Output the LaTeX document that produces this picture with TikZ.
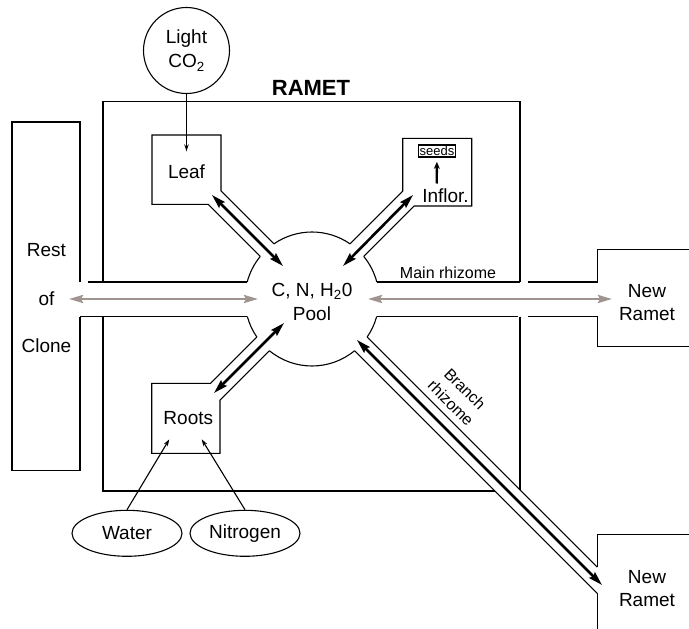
\documentclass[tikz,border=0pt]{standalone}
\usepackage{fontspec}
\setmainfont{Liberation Sans}
\usepackage{tikz}
\usetikzlibrary{arrows.meta, shapes.geometric}

\definecolor{flowgray}{RGB}{160,148,144}

\begin{document}
\begin{tikzpicture}[x=1pt, y=-1pt,
    wall/.style={line width=1.1pt},
    flow/.style={line width=2.6pt, >={Stealth[length=14pt, width=8pt, inset=2pt]}, <->},
    mainflow/.style={line width=2.6pt, flowgray, >={Stealth[length=14pt, width=8pt, inset=2pt]}, <->},
    feed/.style={line width=1.1pt, -{Stealth[length=7pt, width=4.5pt]}},
    lbl/.style={font=\fontsize{19}{24}\selectfont, align=center, inner sep=0pt},
    smalllbl/.style={font=\fontsize{16}{20}\selectfont, align=center, inner sep=0pt}]
    \useasboundingbox (0,0) rectangle (689,629);

    % rest of clone
    \draw[wall] (80,282) -- (80,122) -- (12,122) -- (12,470.5) -- (80,470.5) -- (80,316.5);
    \node[lbl] (rest) at (46.5,250) {Rest};
    \node[lbl] (of) at (46.5,298.5) {of};
    \node[lbl] (clone) at (46.5,346) {Clone};

    % ramet outline
    \draw[wall] (103,282) -- (103,101.5) -- (520,101.5) -- (520,282);
    \draw[wall] (103,316.5) -- (103,491) -- (494.5,491);
    \draw[wall] (520,316.5) -- (520,489.9);
    \node[font=\fontsize{22}{24}\selectfont\bfseries, inner sep=0pt] (ramet) at (311,88.3) {RAMET};

    % main rhizome channel
    \draw[wall] (88,282) -- (247.2,282);
    \draw[wall] (80,316.5) -- (247.3,316.5);
    \draw[wall] (376.8,282) -- (520,282);
    \draw[wall] (376.7,316.5) -- (518,316.5);
    \node[smalllbl] (mainrhiz) at (448,272.3) {Main rhizome};

    % pool
    \coordinate (pool) at (312,299);
    \draw[wall] (pool) ++(15.14:67) arc[start angle=15.14, end angle=34.57, radius=67];
    \draw[wall] (pool) ++(50.54:67) arc[start angle=50.54, end angle=129.46, radius=67];
    \draw[wall] (pool) ++(145.43:67) arc[start angle=145.43, end angle=164.86, radius=67];
    \draw[wall] (pool) ++(194.7:67) arc[start angle=194.7, end angle=219.46, radius=67];
    \draw[wall] (pool) ++(235.43:67) arc[start angle=235.43, end angle=304.57, radius=67];
    \draw[wall] (pool) ++(320.54:67) arc[start angle=320.54, end angle=345.3, radius=67];
    \node[lbl] (pooltxt) at (312,302) {C, N, H\textsubscript{2}0\\Pool};

    % leaf
    \draw[wall] (273.97,243.84) -- (221,190.85) -- (221,135) -- (152,135) -- (152,204.3)
        -- (208.15,204.3) -- (260.27,256.42);
    \node[lbl, minimum height=40pt] (leaf) at (186.5,171.5) {Leaf};
    \node[circle, draw, wall, minimum size=86pt, lbl] (light) at (186.5,50.5) {Light\\CO\textsubscript{2}};
    \draw[feed] (light) -- (leaf);

    % inflorescence
    \draw[wall] (350.02,243.83) -- (402.7,191.15) -- (402.7,138.3) -- (471.7,138.3) -- (471.7,206)
        -- (414.15,206) -- (363.71,256.4);
    \node[lbl] (inflor) at (445.5,195.8) {Inflor.};
    \node[draw, line width=1.8pt, inner sep=1.2pt, font=\fontsize{13}{15}\selectfont] (seeds) at (437,151) {seeds};
    \coordinate (seedfoot) at (436.7,183.5);
    \draw[line width=2.4pt, -{Stealth[length=7pt, width=6pt]}, shorten >=4pt] (seedfoot) -- (seeds);

    % roots
    \draw[wall] (256.83,337.02) -- (210.55,383.3) -- (151.7,383.3) -- (151.7,453.3) -- (220,453.3)
        -- (220,400.15) -- (269.4,350.71);
    \node[lbl] (roots) at (188.3,418.3) {Roots};
    \node[ellipse, draw, wall, minimum width=110pt, minimum height=46pt, lbl] (water) at (127,533.3) {Water};
    \node[ellipse, draw, wall, minimum width=110pt, minimum height=46pt, lbl] (nitro) at (245,533.3) {Nitrogen};
    \coordinate (rootsw) at (169.3,439.3);
    \coordinate (rootsn) at (201.7,439.3);
    \draw[feed] (water.north) -- (rootsw);
    \draw[feed] (nitro.north) -- (rootsn);

    % branch rhizome
    \draw[wall] (367.17,337.02) -- (597.3,567.15);
    \draw[wall] (354.6,350.71) -- (597.3,593.45);
    \node[smalllbl, rotate=-45] (branchrhiz) at (458,396) {Branch\\rhizome};

    % new ramets
    \draw[wall] (528,282) -- (597.3,282) -- (597.3,249.3) -- (689,249.3);
    \draw[wall] (528,316.5) -- (597.3,316.5) -- (597.3,346.7) -- (689,346.7);
    \node[lbl, font=\fontsize{19}{23}\selectfont] (newramet) at (647,303) {New\\Ramet};
    \draw[wall] (597.3,567.15) -- (597.3,534.3) -- (689,534.3);
    \draw[wall] (597.3,593.45) -- (597.3,629);
    \node[lbl, font=\fontsize{19}{23}\selectfont] (branchramet) at (647,588.5) {New\\Ramet};

    % flows through the channels
    \coordinate (leafend) at (212,195);
    \coordinate (leafpool) at (283,266);
    \coordinate (inflend) at (413,195);
    \coordinate (inflpool) at (343,266);
    \coordinate (rootend) at (214,393);
    \coordinate (rootpool) at (284,323);
    \coordinate (branchpool) at (357,340);
    \coordinate (branchend) at (602,585);
    \draw[flow] (leafend) -- (leafpool);
    \draw[flow] (inflend) -- (inflpool);
    \draw[flow] (rootend) -- (rootpool);
    \draw[flow] (branchpool) -- (branchend);

    % main rhizome flows
    \coordinate (clonend) at (69,299);
    \coordinate (poolwest) at (258,299);
    \coordinate (pooleast) at (368,299);
    \coordinate (rametend) at (612,299);
    \draw[mainflow] (clonend) -- (poolwest);
    \draw[mainflow] (pooleast) -- (rametend);
\end{tikzpicture}
\end{document}
